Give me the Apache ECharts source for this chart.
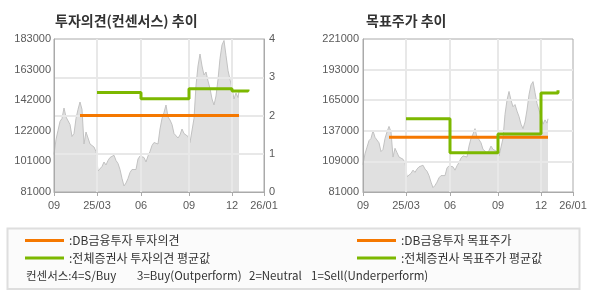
<!DOCTYPE html>
<html><head><meta charset="utf-8">
<script src="https://cdn.jsdelivr.net/npm/echarts@6/dist/echarts.min.js"></script>
<style>html,body{margin:0;padding:0;background:#fff}#c{width:590px;height:300px}</style>
</head><body><div id="c"></div>
<script>
// ---- data ----
const slotCount = 211;
const xTickSlots = [0, 43, 87, 135, 178, 210];
const xTickLabels = ['09', '25/03', '06', '09', '12', '26/01'];
const leftPriceTicks = ['81000', '101000', '122000', '142000', '163000', '183000'];
const rightPriceTicks = ['81000', '109000', '137000', '165000', '193000', '221000'];
const priceSlots = [0,2,4,6,8,10,12,14,16,18,20,22,24,26,28,30,32,34,36,38,40,42,44,46,48,50,52,54,56,58,60,62,64,66,68,70,72,74,76,78,80,82,84,86,88,90,92,94,96,98,100,102,104,106,108,110,112,114,116,118,120,122,124,126,128,130,132,134,136,138,140,142,144,146,148,150,152,154,156,158,160,162,164,166,168,170,172,174,176,178,180,182,184,185];
const priceValues = [106000,116000,122000,128000,130000,137000,131000,131000,126000,118000,120000,130000,136000,141000,136000,113000,121000,117000,113000,112000,111000,108000,95000,94000,98000,101000,99000,102000,104000,105000,105500,102000,100000,96000,90000,85000,87000,90000,94000,96000,97000,96000,103000,105000,106000,104000,101000,105000,108000,112000,114000,115000,113000,123000,130000,134000,139000,131000,129000,126000,120000,119000,117000,119000,123000,120000,121000,118000,114000,114000,130000,152000,165000,173000,165000,159000,161000,155000,150000,143000,139000,145000,156000,170000,179000,182000,172000,162000,156000,150000,143000,147000,144000,148000];
const dbOpinionSlots = [26, 185];
const dbOpinionValues = [2, 2];
const consOpinionSlots = [43, 87, 135, 178, 194];
const consOpinionValues = [2.6, 2.44, 2.7, 2.64, 2.68];
const dbTargetSlots = [26, 185];
const dbTargetValues = [131000, 131000];
const consTargetSlots = [43, 87, 135, 178, 195];
const consTargetValues = [148000, 117000, 134000, 171500, 174000];

const names = {
  dbOp: ':DB금융투자 투자의견',
  consOp: ':전체증권사 투자의견 평균값',
  dbTp: ':DB금융투자 목표주가',
  consTp: ':전체증권사 목표주가 평균값'
};
const ORANGE = '#f57800';
const GREEN = '#7cb800';
const numFont = 'Liberation Sans, Arial, sans-serif';
const krFont = '"Noto Sans CJK KR", sans-serif';

const pairs = (xs, ys) => xs.map((x, i) => [x, ys[i]]);
const cats = Array.from({length: slotCount}, (_, i) => String(i));
const isTick = i => xTickSlots.indexOf(Number(i)) >= 0;

function makeX(gridIndex) {
  return {
    type: 'category', gridIndex, data: cats, boundaryGap: false,
    axisLine: {show: true, lineStyle: {color: '#aaaaaa', width: 1}},
    axisTick: {show: true, interval: i => isTick(i), length: 4, lineStyle: {color: '#aaaaaa'}},
    axisLabel: {interval: i => isTick(i), formatter: v => { const k = xTickSlots.indexOf(Number(v)); return k >= 0 ? xTickLabels[k] : ''; },
      color: '#5a5a5a', fontSize: 11, fontFamily: numFont, margin: 8},
    splitLine: {show: true, interval: i => isTick(i) && Number(i) > 0 && Number(i) < 210,
      lineStyle: {color: '#e8e8e8', width: 2}}
  };
}

const rowFont = '11.5px "Noto Sans CJK KR", sans-serif';
const chart = echarts.init(document.getElementById('c'), null, {renderer: 'canvas'});
chart.setOption({
  animation: false,
  backgroundColor: '#ffffff',
  grid: [
    {left: 54, top: 39, width: 210, height: 153, show: true, borderColor: '#aaaaaa', borderWidth: 1, backgroundColor: 'transparent'},
    {left: 363, top: 39, width: 210, height: 153, show: true, borderColor: '#aaaaaa', borderWidth: 1, backgroundColor: 'transparent'}
  ],
  xAxis: [makeX(0), makeX(1)],
  yAxis: [
    {gridIndex: 0, type: 'value', position: 'left', min: 0, max: 5, interval: 1,
      axisLine: {show: true, lineStyle: {color: '#aaaaaa'}}, axisTick: {show: false}, splitLine: {show: false},
      axisLabel: {formatter: v => leftPriceTicks[Math.round(v)], margin: 3, color: '#5a5a5a', fontSize: 11, fontFamily: numFont}},
    {gridIndex: 0, type: 'value', position: 'left', min: 81000, max: 183000, show: false},
    {gridIndex: 0, type: 'value', position: 'right', min: 0, max: 4, interval: 1,
      axisLine: {show: true, lineStyle: {color: '#aaaaaa'}}, axisTick: {show: false},
      splitLine: {show: true, showMinLine: false, showMaxLine: false, lineStyle: {color: '#e8e8e8', width: 2}},
      axisLabel: {margin: 5, color: '#5a5a5a', fontSize: 11, fontFamily: numFont}},
    {gridIndex: 1, type: 'value', position: 'left', min: 0, max: 5, interval: 1,
      axisLine: {show: true, lineStyle: {color: '#aaaaaa'}}, axisTick: {show: false},
      splitLine: {show: true, showMinLine: false, showMaxLine: false, lineStyle: {color: '#e8e8e8', width: 2}},
      axisLabel: {formatter: v => rightPriceTicks[Math.round(v)], margin: 4, color: '#5a5a5a', fontSize: 11, fontFamily: numFont}},
    {gridIndex: 1, type: 'value', position: 'left', min: 81000, max: 221000, show: false}
  ],
  legend: [
    {left: 25, top: 234.5, orient: 'vertical', icon: 'rect', itemWidth: 39, itemHeight: 3, itemGap: 5.5, padding: 0,
      selectedMode: false, data: [names.dbOp, names.consOp], textStyle: {fontSize: 12, color: '#333', fontFamily: krFont}},
    {left: 357, top: 234.5, orient: 'vertical', icon: 'rect', itemWidth: 39, itemHeight: 3, itemGap: 5.5, padding: 0,
      selectedMode: false, data: [names.dbTp, names.consTp], textStyle: {fontSize: 12, color: '#333', fontFamily: krFont}}
  ],
  graphic: [
    {type: 'rect', z: -10, shape: {x: 7.5, y: 228.5, width: 572, height: 60.5}, style: {fill: '#fbfbfb', stroke: '#dedede', lineWidth: 2}},
    {type: 'text', style: {x: 55, y: 21, text: '투자의견(컨센서스) 추이', font: 'bold 14px "Noto Sans CJK KR", sans-serif', fill: '#333', textVerticalAlign: 'middle', verticalAlign: 'middle'}},
    {type: 'text', style: {x: 366, y: 21, text: '목표주가 추이', font: 'bold 14px "Noto Sans CJK KR", sans-serif', fill: '#333', textVerticalAlign: 'middle', verticalAlign: 'middle'}},
    {type: 'text', style: {x: 26, y: 276, text: '컨센서스:4=S/Buy', font: rowFont, fill: '#333', textVerticalAlign: 'middle', verticalAlign: 'middle'}},
    {type: 'text', style: {x: 137, y: 276, text: '3=Buy(Outperform)', font: rowFont, fill: '#333', textVerticalAlign: 'middle', verticalAlign: 'middle'}},
    {type: 'text', style: {x: 249, y: 276, text: '2=Neutral', font: rowFont, fill: '#333', textVerticalAlign: 'middle', verticalAlign: 'middle'}},
    {type: 'text', style: {x: 311, y: 276, text: '1=Sell(Underperform)', font: rowFont, fill: '#333', textVerticalAlign: 'middle', verticalAlign: 'middle'}}
  ],
  series: [
    {type: 'line', name: 'price1', xAxisIndex: 0, yAxisIndex: 1, z: -1, data: pairs(priceSlots, priceValues), symbol: 'none',
      lineStyle: {color: '#c2c2c2', width: 1}, areaStyle: {color: '#e0e0e0', origin: 'start', opacity: 1}, silent: true},
    {type: 'line', name: names.dbOp, xAxisIndex: 0, yAxisIndex: 2, data: pairs(dbOpinionSlots, dbOpinionValues), symbol: 'none',
      color: ORANGE, lineStyle: {color: ORANGE, width: 3}},
    {type: 'line', name: names.consOp, xAxisIndex: 0, yAxisIndex: 2, step: 'end', data: pairs(consOpinionSlots, consOpinionValues), symbol: 'none',
      color: GREEN, lineStyle: {color: GREEN, width: 3}},
    {type: 'line', name: 'price2', xAxisIndex: 1, yAxisIndex: 4, z: -1, data: pairs(priceSlots, priceValues), symbol: 'none',
      lineStyle: {color: '#c2c2c2', width: 1}, areaStyle: {color: '#e0e0e0', origin: 'start', opacity: 1}, silent: true},
    {type: 'line', name: names.dbTp, xAxisIndex: 1, yAxisIndex: 4, data: pairs(dbTargetSlots, dbTargetValues), symbol: 'none',
      color: ORANGE, lineStyle: {color: ORANGE, width: 3}},
    {type: 'line', name: names.consTp, xAxisIndex: 1, yAxisIndex: 4, step: 'end', data: pairs(consTargetSlots, consTargetValues), symbol: 'none',
      color: GREEN, lineStyle: {color: GREEN, width: 3}}
  ]
});
</script>
</body></html>
